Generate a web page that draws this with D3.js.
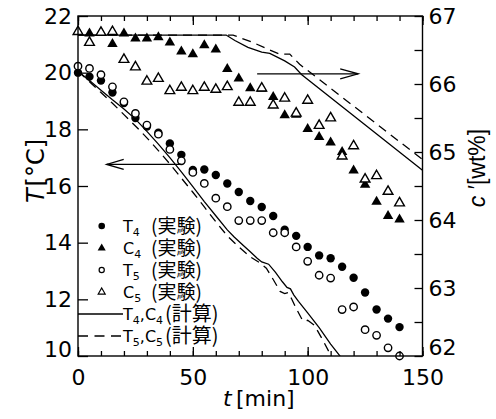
<!DOCTYPE html>
<html><head><meta charset="utf-8">
<script src="https://cdn.jsdelivr.net/npm/d3@7"></script>
<style>body{margin:0;background:#fff}svg{display:block}</style>
</head><body><svg id="c" width="496" height="419"></svg>
<script>
// ---- data ----
const times = [0,5,10,15,20,25,30,35,40,45,50,55,60,65,70,75,80,85,90,95,100,105,110,115,120,125,130,135,140];
const T4exp = [20.00,19.86,19.72,19.30,18.93,18.40,18.10,17.88,17.50,17.10,16.57,16.58,16.39,16.09,15.79,15.47,15.26,14.94,14.46,14.24,13.85,13.55,13.45,13.15,12.76,12.24,11.64,11.32,11.02];
const T5exp = [20.23,20.15,19.93,19.50,18.97,18.56,18.15,17.83,17.29,16.89,16.48,16.09,15.57,15.27,14.78,14.78,14.78,14.35,14.35,13.85,13.34,12.85,12.75,11.64,11.73,10.93,10.73,10.29,10.00];
const C4exp = [66.77,66.745,66.76,66.59,66.745,66.67,66.67,66.69,66.61,66.48,66.44,66.57,66.51,66.22,66.08,65.94,65.93,65.81,65.54,65.55,65.34,65.22,65.14,65.00,64.73,64.52,64.27,64.06,64.01];
const C5exp = [66.77,66.61,66.76,66.77,66.36,66.25,66.04,66.08,65.90,65.95,65.90,65.95,65.92,65.96,65.73,65.73,65.94,65.69,65.79,65.57,65.76,65.39,65.50,64.94,65.09,64.60,64.65,64.42,64.25];

const calcT4_t = [0,5,10,15,20,25,30,35,40,45,50,55,60,65,68,72,75,78,80,83,86,89,91,92.5,94,96,100,105,110,116];
const calcT4   = [20.05,19.72,19.38,19.04,18.72,18.36,17.93,17.48,17.0,16.5,15.98,15.45,14.95,14.45,14.2,13.9,13.68,13.45,13.32,13.24,12.95,12.62,12.42,12.37,12.15,11.93,11.52,11.0,10.42,9.8];
const calcT5_t = [0,5,10,15,20,25,30,35,40,45,50,55,60,65,70,75,79,82,85,88,90,91.5,93,95,97.5,98.5,100,103,107,111.5];
const calcT5   = [20.05,19.68,19.3,18.92,18.52,18.12,17.7,17.25,16.78,16.28,15.78,15.26,14.74,14.24,13.85,13.5,13.3,13.1,12.7,12.28,12.2,12.24,12.02,11.68,11.3,11.22,11.26,11.08,10.5,9.8];
const calcC4_t = [0,64.5,68.3,74,80,83.5,90,94.3,97.3,150];
const calcC4   = [66.72,66.72,66.64,66.54,66.47,66.45,66.34,66.25,66.14,64.73];
const calcC5_t = [0,67.5,76.2,82.8,87.8,92.2,96.5,150];
const calcC5   = [66.72,66.72,66.61,66.51,66.44,66.44,66.29,64.89];

const xTicksMajor = [0,50,100,150];
const xTicksMinor = [0,10,20,30,40,50,60,70,80,90,100,110,120,130,140,150];
const yTTicks = [10,12,14,16,18,20,22];
const yCTicks = [62,62.5,63,63.5,64,64.5,65,65.5,66,66.5,67];

const legendItems = [
  {sym:"fc", a:"T", s:"4", tag:"(実験)"},
  {sym:"ft", a:"C", s:"4", tag:"(実験)"},
  {sym:"oc", a:"T", s:"5", tag:"(実験)"},
  {sym:"ot", a:"C", s:"5", tag:"(実験)"},
  {sym:"solid", a:"T", s:"4", b:"C", s2:"4", tag:"(計算)"},
  {sym:"dash", a:"T", s:"5", b:"C", s2:"5", tag:"(計算)"}
];

// ---- scales ----
const L=78, R=422.5, TOP=16, BOT=356;
const x = d3.scaleLinear().domain([0,150]).range([L,R]);
const yT = d3.scaleLinear().domain([10,22]).range([BOT,TOP]);
const yC = d3.scaleLinear().domain([62,67]).range([BOT,TOP]);

const svg = d3.select("#c");
const FONT = "'DejaVu Sans', sans-serif";
const FONT2 = "'Liberation Sans', sans-serif";
const CJK = "'Noto Sans CJK JP', sans-serif";

svg.append("defs").append("clipPath").attr("id","clip")
  .append("rect").attr("x",L).attr("y",TOP).attr("width",R-L).attr("height",BOT-TOP);

// ---- calc lines ----
const lineT = d3.line().x(d=>x(d[0])).y(d=>yT(d[1]));
const lineC = d3.line().x(d=>x(d[0])).y(d=>yC(d[1]));
const gl = svg.append("g").attr("clip-path","url(#clip)").attr("fill","none").attr("stroke","#000").attr("stroke-width",1.3);
gl.append("path").attr("d", lineT(calcT4_t.map((t,i)=>[t,calcT4[i]])));
gl.append("path").attr("d", lineT(calcT5_t.map((t,i)=>[t,calcT5[i]]))).attr("stroke-dasharray","9,6");
gl.append("path").attr("d", lineC(calcC4_t.map((t,i)=>[t,calcC4[i]])));
gl.append("path").attr("d", lineC(calcC5_t.map((t,i)=>[t,calcC5[i]]))).attr("stroke-dasharray","9,6");

// ---- markers ----
function tri(h){ return `M0,${-h*0.66}L${h*0.58},${h*0.34}L${-h*0.58},${h*0.34}Z`; }
const gm = svg.append("g");
gm.selectAll(".c4").data(times).join("path").attr("transform",(t,i)=>`translate(${x(t)},${yC(C4exp[i])})`)
  .attr("d",tri(9)).attr("fill","#000");
gm.selectAll(".c5").data(times).join("path").attr("transform",(t,i)=>`translate(${x(t)},${yC(C5exp[i])})`)
  .attr("d",tri(8.4)).attr("fill","#fff").attr("stroke","#000").attr("stroke-width",1.4);
gm.selectAll(".t4").data(times).join("circle").attr("cx",t=>x(t)).attr("cy",(t,i)=>yT(T4exp[i]))
  .attr("r",4.2).attr("fill","#000");
gm.selectAll(".t5").data(times).join("circle").attr("cx",t=>x(t)).attr("cy",(t,i)=>yT(T5exp[i]))
  .attr("r",3.7).attr("fill","#fff").attr("stroke","#000").attr("stroke-width",1.4);

// ---- frame & axes ----
svg.append("rect").attr("x",L).attr("y",TOP).attr("width",R-L).attr("height",BOT-TOP)
  .attr("fill","none").attr("stroke","#000").attr("stroke-width",1.4);

function styleAxis(g){ g.select(".domain").remove(); g.selectAll("line").attr("stroke","#000").attr("stroke-width",1.3);
  g.selectAll("text").attr("font-family",FONT).attr("font-size",22).attr("fill","#000"); }

svg.append("g").attr("transform",`translate(0,${BOT})`)
  .call(d3.axisBottom(x).tickValues(xTicksMinor).tickSize(-5).tickFormat("")).call(styleAxis);
svg.append("g").attr("transform",`translate(0,${BOT})`)
  .call(d3.axisBottom(x).tickValues(xTicksMajor).tickSize(-9).tickPadding(13).tickFormat(d3.format("d"))).call(styleAxis);
svg.append("g").attr("transform",`translate(0,${TOP})`)
  .call(d3.axisTop(x).tickValues(xTicksMinor).tickSize(-5).tickFormat("")).call(styleAxis);
svg.append("g").attr("transform",`translate(0,${TOP})`)
  .call(d3.axisTop(x).tickValues(xTicksMajor).tickSize(-9).tickFormat("")).call(styleAxis);

const gy = svg.append("g").attr("transform",`translate(${L},0)`)
  .call(d3.axisLeft(yT).tickValues(yTTicks).tickSize(-10).tickPadding(6).tickFormat(d3.format("d"))).call(styleAxis);
gy.selectAll(".tick").filter(d=>d===10).select("text").attr("y",-7);

const gc = svg.append("g").attr("transform",`translate(${R},0)`)
  .call(d3.axisRight(yC).tickValues(yCTicks).tickSize(-8).tickPadding(6)
    .tickFormat(d=>Number.isInteger(d)?String(d):"")).call(styleAxis);
gc.selectAll(".tick").filter(d=>d===62).select("text").attr("y",-9);

// ---- axis titles ----
const tl = svg.append("text").attr("transform","translate(44,171) rotate(-90)")
  .attr("text-anchor","middle").attr("font-family",FONT).attr("font-size",24);
tl.append("tspan").attr("font-style","italic").text("T");
tl.append("tspan").attr("dx",2).text("[°C]");

const tr = svg.append("text").attr("transform","translate(485,168) rotate(-90)")
  .attr("text-anchor","middle").attr("font-family",FONT2).attr("font-size",23);
tr.append("tspan").attr("font-style","italic").text("c");
tr.append("tspan").text(" ′[wt%]");

const tb = svg.append("text").attr("x",223).attr("y",406).attr("font-family",FONT).attr("font-size",22);
tb.append("tspan").attr("font-style","italic").text("t");
tb.append("tspan").attr("x",236).text("[min]");

// ---- arrows ----
const ga = svg.append("g").attr("fill","none").attr("stroke","#000").attr("stroke-width",1.3);
const arrowR = {x1:x(78), x2:x(122), y:yC(66.15)};
ga.append("line").attr("x1",arrowR.x1).attr("x2",arrowR.x2).attr("y1",arrowR.y).attr("y2",arrowR.y);
ga.append("path").attr("d",`M${arrowR.x2-18},${arrowR.y-5}L${arrowR.x2},${arrowR.y}L${arrowR.x2-18},${arrowR.y+5}`);
const arrowL = {x1:x(12.5), x2:x(45), y:yT(16.76)};
ga.append("line").attr("x1",arrowL.x1).attr("x2",arrowL.x2).attr("y1",arrowL.y).attr("y2",arrowL.y);
ga.append("path").attr("d",`M${arrowL.x1+17},${arrowL.y-5}L${arrowL.x1},${arrowL.y}L${arrowL.x1+17},${arrowL.y+5}`);

// ---- legend ----
const rowY = d3.scaleLinear().domain([0,5]).range([226,336]);
const lg = svg.append("g");
legendItems.forEach((it,i)=>{
  const cy = rowY(i), mx = 101.7;
  if(it.sym==="fc") lg.append("circle").attr("cx",mx).attr("cy",cy).attr("r",3.3).attr("fill","#000");
  if(it.sym==="oc") lg.append("circle").attr("cx",mx).attr("cy",cy).attr("r",2.6).attr("fill","#fff").attr("stroke","#000").attr("stroke-width",1.2);
  if(it.sym==="ft") lg.append("path").attr("transform",`translate(${mx},${cy})`).attr("d",tri(7)).attr("fill","#000");
  if(it.sym==="ot") lg.append("path").attr("transform",`translate(${mx},${cy})`).attr("d",tri(6)).attr("fill","#fff").attr("stroke","#000").attr("stroke-width",1.2);
  if(it.sym==="solid"||it.sym==="dash"){
    const ln = lg.append("line").attr("x1",L).attr("x2",123).attr("y1",cy).attr("y2",cy).attr("stroke","#000").attr("stroke-width",1.3);
    if(it.sym==="dash") ln.attr("stroke-dasharray","10,6.5");
  }
  const t = lg.append("text").attr("x",123).attr("y",cy+5.8).attr("font-family",FONT).attr("font-size",16);
  t.append("tspan").text(it.a);
  t.append("tspan").attr("font-size",11).attr("dy",4).text(it.s);
  if(it.b){
    t.append("tspan").attr("dy",-4).text(",");
    t.append("tspan").text(it.b);
    t.append("tspan").attr("font-size",11).attr("dy",4).text(it.s2);
  }
  lg.append("text").attr("x", it.b?165:151).attr("y",cy+7.3).attr("font-family",CJK)
    .attr("font-size", it.b?20:19).text(it.tag);
});
</script></body></html>
